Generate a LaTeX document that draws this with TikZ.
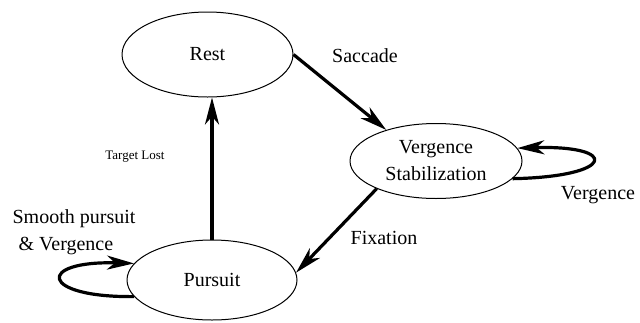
\documentclass[tikz,border=0pt]{standalone}
\usepackage{fontspec}
\setmainfont{LiberationSerif}[Extension=.ttf,UprightFont=*-Regular,BoldFont=*-Bold]
\usetikzlibrary{shapes.geometric,arrows.meta}
\begin{document}
\begin{tikzpicture}[x=1pt,y=-1pt,>={Stealth[length=27pt,width=14pt,inset=8pt]}, font=\rmfamily\fontsize{20}{27}\selectfont, line join=round,
	state/.style={ellipse,draw,line width=1pt,inner sep=0pt,align=center},
	trans/.style={->,line width=3.2pt}]
				\useasboundingbox (0,0) rectangle (640,322);
				\node[state,minimum width=171,minimum height=85] (rest) at (207.5,54.5) {Rest};
				\node[state,minimum width=172,minimum height=75] (verg) at (436,161) {Vergence\\Stabilization};
				\node[state,minimum width=170,minimum height=80] (pursuit) at (212,280) {Pursuit};
				\draw[trans] (rest.east) -- (verg.148);
				\draw[trans] (verg.205) -- (pursuit.5);
				\draw[trans] (pursuit.north) -- (pursuit.north |- rest.south);
				\draw[trans] (verg.-13) .. controls +(103,-2) and +(103,-3) .. (verg.9);
				\draw[trans] (pursuit.192) .. controls +(-95,1) and +(-98,-3) .. (pursuit.168);
				\node (saccade) at (365,56) {Saccade};
				\node[font=\rmfamily\fontsize{13}{15}\selectfont] (lost) at (135,157) {Target Lost};
				\node (fixation) at (384,238) {Fixation};
				\node (vergence) at (598,195) {Vergence};
				\node[align=left,inner sep=0pt] (smooth) at (74,232) {Smooth pursuit\\\hspace*{6pt}\& Vergence};
\end{tikzpicture}
\end{document}
